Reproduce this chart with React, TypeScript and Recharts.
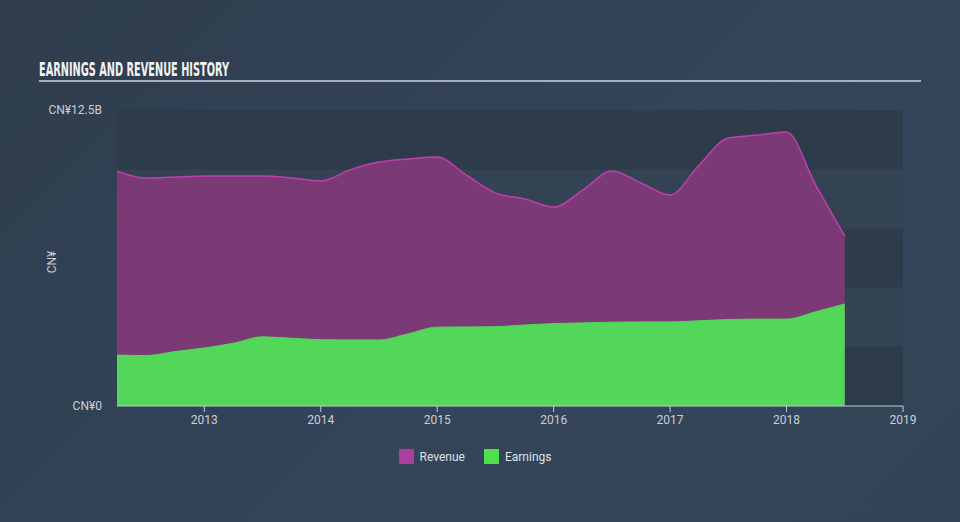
import React from 'react';
import { AreaChart, Area, XAxis, YAxis, ReferenceArea } from 'recharts';

const quarters = [
  2012.25, 2012.5, 2012.75, 2013, 2013.25, 2013.5, 2013.75, 2014, 2014.25, 2014.5, 2014.75, 2015, 2015.25,
  2015.5, 2015.75, 2016, 2016.25, 2016.5, 2016.75, 2017, 2017.25, 2017.5, 2017.75, 2018, 2018.25, 2018.5,
];
const revenue = [
  9.92, 9.63, 9.67, 9.71, 9.71, 9.71, 9.63, 9.5, 9.97, 10.3, 10.43, 10.51, 9.75,
  9.0, 8.74, 8.4, 9.12, 9.92, 9.42, 8.91, 10.18, 11.32, 11.44, 11.57, 9.33, 7.18,
];
const earnings = [
  2.15, 2.13, 2.3, 2.45, 2.65, 2.92, 2.86, 2.8, 2.79, 2.79, 3.05, 3.33, 3.34,
  3.35, 3.42, 3.48, 3.51, 3.54, 3.55, 3.55, 3.6, 3.65, 3.67, 3.67, 3.98, 4.31,
];
const yearTicks = [2013, 2014, 2015, 2016, 2017, 2018, 2019];
const yTicks = [0, 12.5];
const bands = [0, 2.5, 5, 7.5, 10];

const data = quarters.map((t, i) => ({ t, revenue: revenue[i], earnings: earnings[i] }));

const fmtY = (v: number) => (v === 0 ? 'CN¥0' : `CN¥${v}B`);

export default function App() {
  return (
    <div
      style={{
        position: 'absolute',
        left: 0,
        top: 0,
        width: 960,
        height: 522,
        background: 'linear-gradient(135deg, #2f3d4d 0%, #34455a 60%, #334456 100%)',
        fontFamily: 'Roboto, sans-serif',
        overflow: 'hidden',
      }}
    >
      <svg width={960} height={522} style={{ position: 'absolute', left: 0, top: 0 }}>
        <text
          x={39}
          y={76}
          fill="#f2f2f2"
          fontSize={19}
          fontWeight="bold"
          fontFamily="'Liberation Sans Narrow', 'DejaVu Sans Condensed', sans-serif"
          textLength={190}
          lengthAdjust="spacingAndGlyphs"
        >
          EARNINGS AND REVENUE HISTORY
        </text>
        <rect x={39} y={80} width={882} height={2} fill="#a9afb8" />
        <text
          x={0}
          y={0}
          transform="translate(56,262) rotate(-90)"
          textAnchor="middle"
          fill="#c9ced6"
          fontSize={12}
          fontFamily="Roboto, sans-serif"
        >
          CN¥
        </text>
      </svg>
      <div style={{ position: 'absolute', left: 0, top: 0 }}>
        <AreaChart width={960} height={522} data={data} margin={{ top: 110, right: 57, bottom: 86, left: 0 }}>
          {bands.map((b, i) => (
            <ReferenceArea
              key={b}
              y1={b}
              y2={b + 2.5}
              fill={i % 2 === 0 ? '#2d3b4a' : '#344353'}
              fillOpacity={1}
              stroke="none"
              ifOverflow="visible"
            />
          ))}
          <XAxis
            dataKey="t"
            type="number"
            domain={[2012.25, 2019]}
            ticks={yearTicks}
            allowDataOverflow
            height={30}
            stroke="#c6cbd3"
            tickSize={6}
            tickMargin={3}
            tick={{ fill: '#c9ced6', fontSize: 12, fontFamily: 'Roboto, sans-serif' }}
          />
          <YAxis
            type="number"
            domain={[0, 12.5]}
            ticks={yTicks}
            width={117}
            axisLine={false}
            tickLine={false}
            tickSize={0}
            tickMargin={15}
            tickFormatter={fmtY}
            tick={{ fill: '#c9ced6', fontSize: 12, fontFamily: 'Roboto, sans-serif' }}
          />
          <Area
            type="monotone"
            dataKey="revenue"
            stroke="#c03fae"
            strokeWidth={1.5}
            fill="#7b3a75"
            fillOpacity={1}
            isAnimationActive={false}
            dot={false}
            activeDot={false}
          />
          <Area
            type="monotone"
            dataKey="earnings"
            stroke="#52d758"
            strokeWidth={1}
            fill="#52d758"
            fillOpacity={1}
            isAnimationActive={false}
            dot={false}
            activeDot={false}
          />
        </AreaChart>
      </div>
      <div
        style={{
          position: 'absolute',
          top: 449,
          left: 0,
          width: 960,
          display: 'flex',
          justifyContent: 'center',
          alignItems: 'center',
          fontSize: 12,
          color: '#dde1e6',
          paddingRight: 10,
          boxSizing: 'border-box',
        }}
      >
        <span style={{ display: 'inline-block', width: 15, height: 15, background: '#b03c9f', marginRight: 6 }} />
        <span style={{ marginRight: 19 }}>Revenue</span>
        <span style={{ display: 'inline-block', width: 15, height: 15, background: '#4fe04f', marginRight: 6 }} />
        <span>Earnings</span>
      </div>
    </div>
  );
}
